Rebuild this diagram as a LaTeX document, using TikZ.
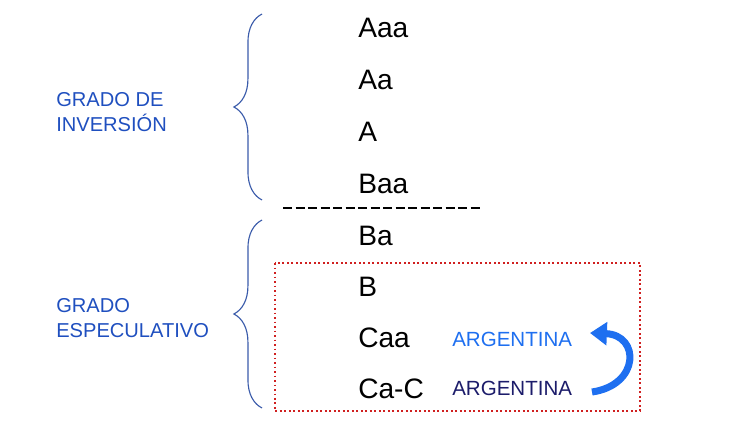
\documentclass[tikz,border=0pt]{standalone}
\usepackage{fontspec}
\setmainfont{Liberation Sans}
\usetikzlibrary{positioning,arrows.meta,decorations.pathreplacing}
\definecolor{bracecol}{HTML}{3A5BAA}
\definecolor{gradecol}{HTML}{1F4FBF}
\definecolor{argblue}{HTML}{1E6FF0}
\definecolor{argnavy}{HTML}{1C1C6A}
\definecolor{boxred}{HTML}{D02020}
\tikzset{
  rating/.style={anchor=west, font=\fontsize{20}{22}\selectfont, inner sep=0pt},
  grade/.style={anchor=west, align=left, text=gradecol, font=\fontsize{14.3}{18}\selectfont, inner sep=0pt},
  country/.style={anchor=west, font=\fontsize{14.6}{16}\selectfont, inner sep=0pt},
  bigbrace/.style={draw=bracecol, thick, decorate, decoration={brace, amplitude=20pt, aspect=0.5, mirror}},
}
\begin{document}
\begin{tikzpicture}[x=0.025cm,y=-0.025cm]
\useasboundingbox (0,0) rectangle (730,421);

% Braces
\draw[bigbrace] (262,14) -- coordinate (tipA) (262,200);
\draw[bigbrace] (262,220) -- coordinate (tipB) (262,408);

% Grades
\node[grade] (inversion) at (56,112) {GRADO DE\\INVERSIÓN};
\node[grade] (especulativo) at (56,318) {GRADO\\ESPECULATIVO};

% Ratings
\foreach \r/\y [count=\i] in {Aaa/28, Aa/80, A/132, Baa/184, Ba/236, B/287, Caa/338, Ca-C/389}
  \node[rating] (r\i) at (358,\y) {\r};

% Separator
\coordinate (sepL) at (283,208);
\coordinate (sepR) at (482,208);
\draw[line width=1.3pt, dash pattern=on 6.5pt off 2.4pt] (sepL) -- (sepR);

% Speculative box
\draw[boxred, line width=1.2pt, dotted] (275,263) rectangle (640,411);

% Countries
\node[country, text=argblue] (argup) at (452,339) {ARGENTINA};
\node[country, text=argnavy] (argdown) at (452,388) {ARGENTINA};

% Curved arrow
\coordinate (tail) at (592,392);
\coordinate (head) at (590,333);
\draw[argblue, line width=5pt, -{Triangle[length=12pt,width=16pt]}]
  (tail) .. controls (640,385) and (640,335) .. (head);
\end{tikzpicture}
\end{document}
